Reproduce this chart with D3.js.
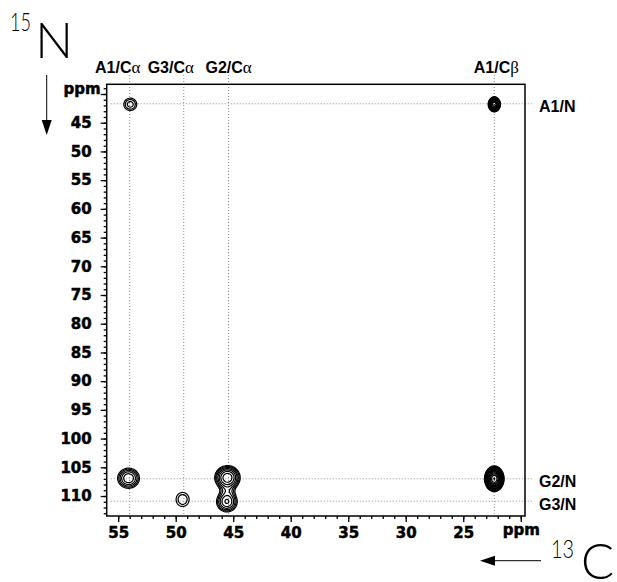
<!DOCTYPE html>
<html>
<head>
<meta charset="utf-8">
<script src="https://cdn.jsdelivr.net/npm/d3@7"></script>
<style>
	body { margin: 0; background: #fff; }
	svg { display: block; }
</style>
</head>
<body>
<svg id="spectrum" width="617" height="582"></svg>
<script>

// assigned carbon columns (13C ppm) and their labels
var cShifts = [54.0, 49.3, 45.4, 22.3];
var cLabels = ["A1/C", "G3/C", "G2/C", "A1/C"];
var cGreek = ["\u03b1", "\u03b1", "\u03b1", "\u03b2"];

// assigned nitrogen rows (15N ppm) and their labels
var nShifts = [41.7, 107.0, 110.9];
var nLabels = ["A1/N", "G2/N", "G3/N"];

// cross peaks: position, height and width (ppm)
var peakC = [53.95, 22.3, 54.1, 49.4, 45.5, 45.55, 45.5, 22.3];
var peakN = [41.8, 41.8, 106.9, 110.6, 106.8, 111.0, 109.0, 107.0];
var peakHeight = [0.14, 10, 0.38, 0.11, 0.8, 0.4, 0.12, 15];
var peakWidthC = [0.39, 0.16, 0.47, 0.45, 0.47, 0.44, 0.38, 0.25];
var peakWidthN = [0.75, 0.40, 0.87, 0.97, 0.89, 0.87, 0.9, 0.66];

// tick labels
var xTicks = [55, 50, 45, 40, 35, 30, 25, 20];
var xTickLabels = ["55", "50", "45", "40", "35", "30", "25", "ppm"];
var yTicks = [40, 45, 50, 55, 60, 65, 70, 75, 80, 85, 90, 95, 100, 105, 110];
var yTickLabels = ["ppm", "45", "50", "55", "60", "65", "70", "75", "80",
	"85", "90", "95", "100", "105", "110"];

var LEFT = 106.7, TOP = 84.3, RIGHT = 525, BOTTOM = 516;
var W = Math.round(RIGHT - LEFT), H = Math.round(BOTTOM - TOP);

var svg = d3.select("#spectrum");

var x = d3.scaleLinear().domain([56.0, 19.63]).range([LEFT, RIGHT]);
var y = d3.scaleLinear().domain([38.31, 113.48]).range([TOP, BOTTOM]);


function drawGuides() {

	var guides = svg.append("g")
		.attr("stroke", "#8a8a8a")
		.attr("stroke-width", 1)
		.attr("stroke-dasharray", "1,2");

	guides.selectAll(".vguide")
		.data(cShifts)
		.enter().append("line")
		.attr("class", "vguide")
		.attr("x1", function(d) { return x(d); })
		.attr("x2", function(d) { return x(d); })
		.attr("y1", 75)
		.attr("y2", BOTTOM);

	guides.selectAll(".hguide")
		.data(nShifts)
		.enter().append("line")
		.attr("class", "hguide")
		.attr("x1", LEFT + 4)
		.attr("x2", RIGHT + 8)
		.attr("y1", function(d) { return y(d); })
		.attr("y2", function(d) { return y(d); });
}


// sum of gaussian peaks on a pixel grid, then contoured at geometric levels
function drawPeaks() {

	var values = new Float64Array(W * H);
	var sx = Math.abs(x(1) - x(0)), sy = Math.abs(y(1) - y(0));

	peakC.forEach(function(c, k) {
		var cx = x(c) - LEFT, cy = y(peakN[k]) - TOP;
		var wx = peakWidthC[k] * sx, wy = peakWidthN[k] * sy;
		for (var j = 0; j < H; j++) {
			var dy = (j + 0.5 - cy) / wy;
			if (Math.abs(dy) > 6) continue;
			for (var i = 0; i < W; i++) {
				var dx = (i + 0.5 - cx) / wx;
				if (Math.abs(dx) > 6) continue;
				values[j * W + i] += peakHeight[k] * Math.exp(-0.5 * (dx * dx + dy * dy));
			}
		}
	});

	var levels = d3.range(20).map(function(k) { return 0.05 * Math.pow(1.5, k); });
	var contours = d3.contours().size([W, H]).thresholds(levels)(values);

	svg.append("g")
		.attr("transform", "translate(" + LEFT + "," + TOP + ")")
		.selectAll("path")
		.data(contours)
		.enter().append("path")
		.attr("d", d3.geoPath())
		.attr("fill", "none")
		.attr("stroke", "#000")
		.attr("stroke-width", 1.2);
}


function drawAxes() {

	var tickFont = "'DejaVu Sans', sans-serif";

	// minor ticks every ppm
	svg.append("g")
		.attr("transform", "translate(" + LEFT + ",0)")
		.call(d3.axisLeft(y).tickValues(d3.range(39, 114)).tickSize(3).tickFormat(""))
		.call(function(g) { g.select(".domain").remove(); });

	svg.append("g")
		.attr("transform", "translate(0," + BOTTOM + ")")
		.call(d3.axisBottom(x).tickValues(d3.range(20, 56)).tickSize(3).tickFormat(""))
		.call(function(g) { g.select(".domain").remove(); });

	var yAxis = svg.append("g")
		.attr("transform", "translate(" + LEFT + ",0)")
		.call(d3.axisLeft(y).tickValues(yTicks).tickSize(6).tickPadding(9)
			.tickFormat(function(d, i) { return yTickLabels[i]; }));
	yAxis.select(".domain").remove();

	var xAxis = svg.append("g")
		.attr("transform", "translate(0," + BOTTOM + ")")
		.call(d3.axisBottom(x).tickValues(xTicks).tickSize(6).tickPadding(5)
			.tickFormat(function(d, i) { return xTickLabels[i]; }));
	xAxis.select(".domain").remove();

	svg.selectAll(".tick line").attr("stroke", "#000").attr("stroke-width", 1.3);
	svg.selectAll(".tick text")
		.attr("fill", "#000")
		.style("font-family", tickFont)
		.style("font-weight", "bold")
		.style("font-size", "15px")
		.attr("stroke", "#000")
		.attr("stroke-width", 0.5);

	yAxis.selectAll(".tick text")
		.filter(function(d) { return d == 40; })
		.attr("dx", 9).attr("dy", "-0.05em");
	xAxis.selectAll(".tick text")
		.filter(function(d) { return d == 20; })
		.attr("dy", "0.55em");

	// frame
	svg.append("rect")
		.attr("x", LEFT)
		.attr("y", TOP)
		.attr("width", RIGHT - LEFT)
		.attr("height", BOTTOM - TOP)
		.attr("fill", "none")
		.attr("stroke", "#000")
		.attr("stroke-width", 1.5);
}


function drawLabels() {

	var labelFont = "'Liberation Sans', Arial, sans-serif";
	var shiftDx = [-12, -13, 0, 2];

	var top = svg.selectAll(".clabel")
		.data(cShifts)
		.enter().append("text")
		.attr("class", "clabel")
		.attr("x", function(d, i) { return x(d) + shiftDx[i]; })
		.attr("y", 72.7)
		.attr("text-anchor", "middle")
		.style("font-family", labelFont)
		.style("font-size", "16px");

	top.append("tspan")
		.style("font-weight", "bold")
		.text(function(d, i) { return cLabels[i]; });
	top.append("tspan")
		.style("font-family", "'Liberation Serif', serif")
		.style("font-size", "17px")
		.text(function(d, i) { return cGreek[i]; });

	svg.selectAll(".nlabel")
		.data(nShifts)
		.enter().append("text")
		.attr("class", "nlabel")
		.attr("x", 539)
		.attr("y", function(d) { return y(d); })
		.attr("dy", "0.52em")
		.style("font-family", labelFont)
		.style("font-weight", "bold")
		.style("font-size", "16px")
		.text(function(d, i) { return nLabels[i]; });

	// nucleus names with direction arrows
	var thin = "Lato, 'Noto Sans', sans-serif";

	svg.append("text").attr("x", 10).attr("y", 31)
		.attr("textLength", 21).attr("lengthAdjust", "spacingAndGlyphs")
		.style("font-family", thin).style("font-weight", 300).style("font-size", "25px")
		.text("15");
	svg.append("text").attr("x", 73).attr("y", 58)
		.attr("text-anchor", "end")
		.style("font-family", thin).style("font-weight", 300).style("font-size", "50px")
		.text("N");

	svg.append("line")
		.attr("x1", 46.7).attr("x2", 46.7).attr("y1", 75).attr("y2", 122)
		.attr("stroke", "#000").attr("stroke-width", 1);
	svg.append("path")
		.attr("d", "M41.7,120 L51.7,120 L46.7,135 Z")
		.attr("fill", "#000");

	svg.append("text").attr("x", 551).attr("y", 558)
		.attr("textLength", 23).attr("lengthAdjust", "spacingAndGlyphs")
		.style("font-family", thin).style("font-weight", 300).style("font-size", "26px")
		.text("13");
	svg.append("text").attr("x", 614).attr("y", 579)
		.attr("text-anchor", "end")
		.style("font-family", thin).style("font-weight", 300).style("font-size", "49px")
		.text("C");

	svg.append("line")
		.attr("x1", 541).attr("x2", 492).attr("y1", 560.7).attr("y2", 560.7)
		.attr("stroke", "#000").attr("stroke-width", 1);
	svg.append("path")
		.attr("d", "M495,555.7 L495,565.7 L480,560.7 Z")
		.attr("fill", "#000");
}


drawGuides();
drawPeaks();
drawAxes();
drawLabels();

</script>
</body>
</html>
